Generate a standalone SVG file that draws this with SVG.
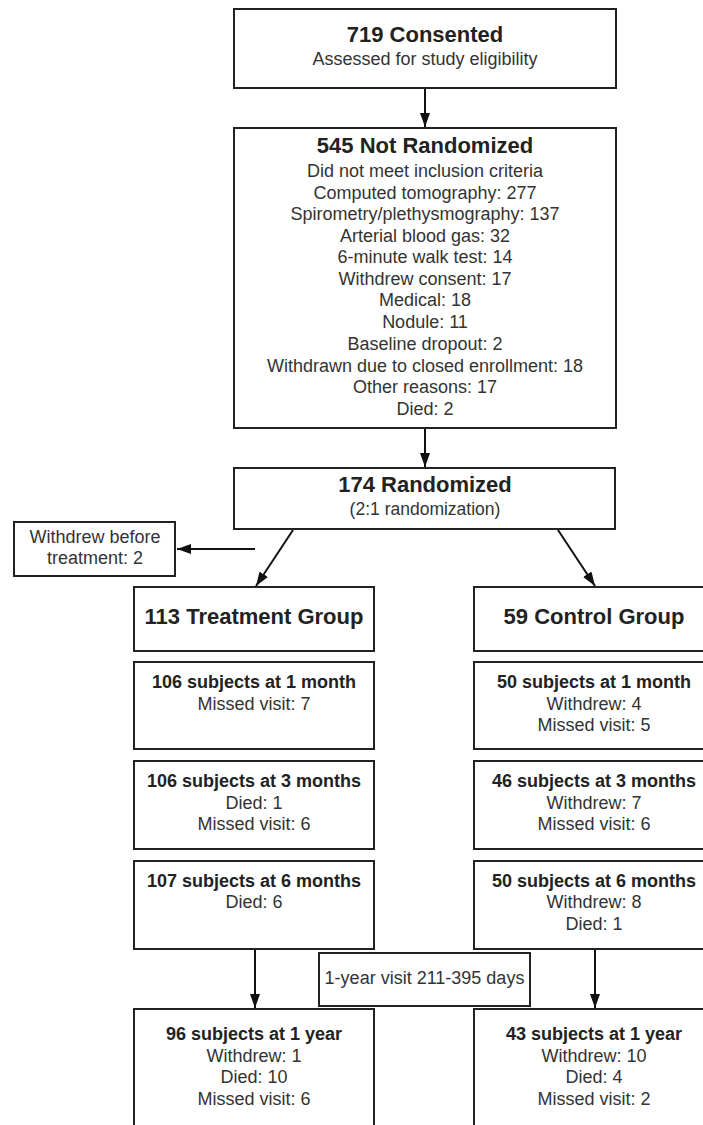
<svg xmlns="http://www.w3.org/2000/svg" width="703" height="1125" viewBox="0 0 703 1125">
<defs>
<style>
.box{fill:#fff;stroke:#222;stroke-width:2}
text{font-family:"Liberation Sans",Arial,sans-serif;fill:#333;text-anchor:middle}
.h1{font-size:22px;font-weight:bold;fill:#222}
.h2{font-size:18px;font-weight:bold;fill:#222}
.t{font-size:18px}
.s{font-size:17.500px}
.c{stroke:#111;stroke-width:2;fill:none;marker-end:url(#ah)}
</style>
<marker id="ah" viewBox="0 0 14 10" refX="14" refY="5" markerWidth="14" markerHeight="10" orient="auto" markerUnits="userSpaceOnUse">
<path d="M0,0 L14,5 L0,10 z" fill="#111"/>
</marker>
</defs>
<rect width="703" height="1125" fill="#fff"/>
<g id="connectors">
<line class="c" x1="425" y1="88" x2="425" y2="127"/>
<line class="c" x1="425" y1="428" x2="425" y2="467"/>
<line class="c" x1="255" y1="549" x2="177" y2="549"/>
<line class="c" x1="293" y1="530" x2="256" y2="586"/>
<line class="c" x1="558" y1="530" x2="595" y2="586"/>
<line class="c" x1="255" y1="949" x2="255" y2="1008"/>
<line class="c" x1="595" y1="949" x2="595" y2="1008"/>
</g>
<g id="consented">
<rect class="box" x="234" y="9" width="382" height="79"/>
<text class="h1" x="425" y="42">719 Consented</text>
<text class="t" x="425" y="65">Assessed for study eligibility</text>
</g>
<g id="not-randomized">
<rect class="box" x="234" y="128" width="382" height="300"/>
<text class="h1" x="425" y="153">545 Not Randomized</text>
<text class="t" x="425" y="177">Did not meet inclusion criteria</text>
<text class="t" x="425" y="199">Computed tomography: 277</text>
<text class="t" x="425" y="220">Spirometry/plethysmography: 137</text>
<text class="t" x="425" y="242">Arterial blood gas: 32</text>
<text class="t" x="425" y="263">6-minute walk test: 14</text>
<text class="t" x="425" y="285">Withdrew consent: 17</text>
<text class="t" x="425" y="306">Medical: 18</text>
<text class="t" x="425" y="328">Nodule: 11</text>
<text class="t" x="425" y="350">Baseline dropout: 2</text>
<text class="t" x="425" y="372">Withdrawn due to closed enrollment: 18</text>
<text class="t" x="425" y="393">Other reasons: 17</text>
<text class="t" x="425" y="415">Died: 2</text>
</g>
<g id="randomized">
<rect class="box" x="234" y="468" width="381" height="61"/>
<text class="h1" x="425" y="492">174 Randomized</text>
<text class="s" x="425" y="515">(2:1 randomization)</text>
</g>
<g id="withdrew-before">
<rect class="box" x="14" y="522" width="161" height="54"/>
<text class="t" x="95" y="543">Withdrew before</text>
<text class="t" x="95" y="564">treatment: 2</text>
</g>
<g id="treatment-group">
<rect class="box" x="134" y="587" width="240" height="64"/>
<text class="h1" x="254" y="624">113 Treatment Group</text>
</g>
<g id="control-group">
<rect class="box" x="474" y="587" width="240" height="64"/>
<text class="h1" x="594" y="624">59 Control Group</text>
</g>
<g id="t-1month">
<rect class="box" x="134" y="662" width="240" height="87"/>
<text class="h2" x="254" y="688">106 subjects at 1 month</text>
<text class="t" x="254" y="710">Missed visit: 7</text>
</g>
<g id="c-1month">
<rect class="box" x="474" y="662" width="240" height="87"/>
<text class="h2" x="594" y="688">50 subjects at 1 month</text>
<text class="t" x="594" y="710">Withdrew: 4</text>
<text class="t" x="594" y="731">Missed visit: 5</text>
</g>
<g id="t-3months">
<rect class="box" x="134" y="761" width="240" height="88"/>
<text class="h2" x="254" y="787">106 subjects at 3 months</text>
<text class="t" x="254" y="809">Died: 1</text>
<text class="t" x="254" y="830">Missed visit: 6</text>
</g>
<g id="c-3months">
<rect class="box" x="474" y="761" width="240" height="88"/>
<text class="h2" x="594" y="787">46 subjects at 3 months</text>
<text class="t" x="594" y="809">Withdrew: 7</text>
<text class="t" x="594" y="830">Missed visit: 6</text>
</g>
<g id="t-6months">
<rect class="box" x="134" y="861" width="240" height="88"/>
<text class="h2" x="254" y="887">107 subjects at 6 months</text>
<text class="t" x="254" y="908">Died: 6</text>
</g>
<g id="c-6months">
<rect class="box" x="474" y="861" width="240" height="88"/>
<text class="h2" x="594" y="887">50 subjects at 6 months</text>
<text class="t" x="594" y="908">Withdrew: 8</text>
<text class="t" x="594" y="930">Died: 1</text>
</g>
<g id="one-year-visit">
<rect class="box" x="319" y="953" width="211" height="53"/>
<text class="t" x="424.500" y="984">1-year visit 211-395 days</text>
</g>
<g id="t-1year">
<rect class="box" x="134" y="1009" width="240" height="130"/>
<text class="h2" x="254" y="1040">96 subjects at 1 year</text>
<text class="t" x="254" y="1062">Withdrew: 1</text>
<text class="t" x="254" y="1083">Died: 10</text>
<text class="t" x="254" y="1105">Missed visit: 6</text>
</g>
<g id="c-1year">
<rect class="box" x="474" y="1009" width="240" height="130"/>
<text class="h2" x="594" y="1040">43 subjects at 1 year</text>
<text class="t" x="594" y="1062">Withdrew: 10</text>
<text class="t" x="594" y="1083">Died: 4</text>
<text class="t" x="594" y="1105">Missed visit: 2</text>
</g>
</svg>
